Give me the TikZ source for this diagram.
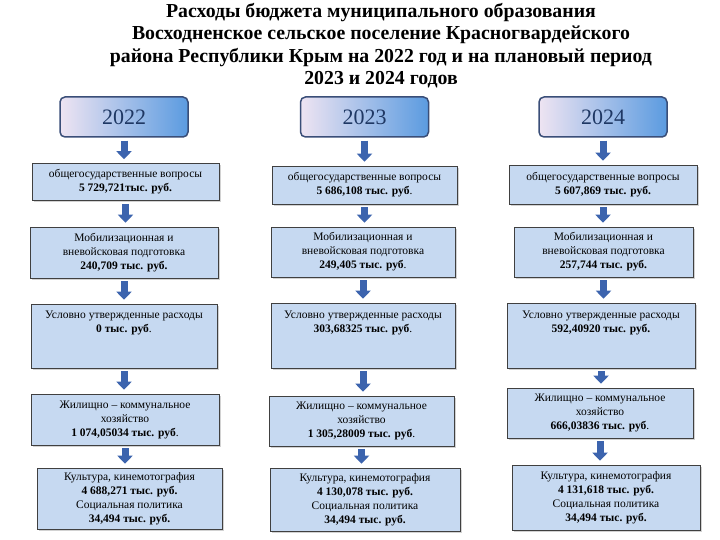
\documentclass[tikz,border=0pt]{standalone}
\usepackage{fontspec}
\setmainfont{Liberation Serif}
\usetikzlibrary{arrows.meta,shadows}

\definecolor{boxblue}{HTML}{C6D9F1}
\definecolor{arrowblue}{HTML}{3C64AE}
\definecolor{yearblue}{HTML}{5B9BE0}
\definecolor{yearpink}{HTML}{EEE4F2}
\definecolor{yeartext}{HTML}{1F3864}
\definecolor{yearline}{HTML}{3A4E78}

\begin{document}
\begin{tikzpicture}[x=1pt,y=-1pt,
		yearbox/.style={draw=yearline, line width=1.5pt, rounded corners=5pt, left color=yearpink, right color=yearblue, minimum width=128pt, minimum height=40pt, text=yeartext, font=\fontsize{22}{26}\selectfont},
		itembox/.style={draw=black!75, line width=0.6pt, fill=boxblue, align=center, inner sep=2pt, font=\fontsize{11.5}{14}\selectfont, drop shadow={opacity=0.35, shadow xshift=2pt, shadow yshift=-2pt}},
		downarrow/.style={draw=arrowblue, line width=7pt, -{Triangle[width=15pt,length=8pt]}, shorten <=3pt, shorten >=4pt}]
		\fill[white] (0,0) rectangle (720,540);
		\useasboundingbox (0,0) rectangle (720,540);
		\draw (381,45.5) node[align=center, font=\fontsize{19.8}{22.3}\selectfont\bfseries](title){Расходы бюджета муниципального образования\\Восходненское сельское поселение Красногвардейского\\района Республики Крым на 2022 год и на плановый период\\2023 и 2024 годов};
		\draw (124,117) node[yearbox](y22){2022};
		\draw (364.5,117) node[yearbox](y23){2023};
		\draw (603,117) node[yearbox](y24){2024};
		\draw (125.5,182) node[itembox, minimum width=187pt, minimum height=37pt](g22){общегосударственные вопросы\\\textbf{5 729,721тыс. руб.}};
		\draw (364.5,185) node[itembox, minimum width=185pt, minimum height=38pt](g23){общегосударственные вопросы\\\textbf{5 686,108 тыс. руб}.};
		\draw (603,184.5) node[itembox, minimum width=188pt, minimum height=39pt](g24){общегосударственные вопросы\\\textbf{5 607,869 тыс. руб.}};
		\draw (124,252.5) node[itembox, minimum width=188pt, minimum height=51pt](m22){Мобилизационная и\\вневойсковая подготовка\\\textbf{240,709 тыс. руб.}};
		\draw (363,252) node[itembox, minimum width=184pt, minimum height=50pt](m23){Мобилизационная и\\вневойсковая подготовка\\\textbf{249,405 тыс. руб}.};
		\draw (603.5,252) node[itembox, minimum width=179pt, minimum height=50pt](m24){Мобилизационная и\\вневойсковая подготовка\\\textbf{257,744 тыс. руб.}};
		\draw (124,336) node[itembox, minimum width=186pt, minimum height=64pt](u22){Условно утвержденные расходы\\\textbf{0 тыс. руб}.\\[14pt]\mbox{}};
		\draw (363,335.5) node[itembox, minimum width=184pt, minimum height=65pt](u23){Условно утвержденные расходы\\\textbf{303,68325 тыс. руб}.\\[14pt]\mbox{}};
		\draw (601,335.5) node[itembox, minimum width=188pt, minimum height=65pt](u24){Условно утвержденные расходы\\\textbf{592,40920 тыс. руб.}\\[14pt]\mbox{}};
		\draw (125,419.5) node[itembox, minimum width=188pt, minimum height=51pt](h22){Жилищно -- коммунальное\\хозяйство\\\textbf{1 074,05034 тыс. руб}.};
		\draw (361.5,421) node[itembox, minimum width=185pt, minimum height=50pt](h23){Жилищно -- коммунальное\\хозяйство\\\textbf{1 305,28009 тыс. руб}.};
		\draw (600,413) node[itembox, minimum width=186pt, minimum height=50pt](h24){Жилищно -- коммунальное\\хозяйство\\\textbf{666,03836 тыс. руб}.};
		\draw (129.5,498.5) node[itembox, minimum width=185pt, minimum height=61pt](k22){Культура, кинемотография\\\textbf{4 688,271 тыс. руб.}\\Социальная политика\\\textbf{34,494 тыс. руб.}};
		\draw (365,499.5) node[itembox, minimum width=190pt, minimum height=63pt](k23){Культура, кинемотография\\\textbf{4 130,078 тыс. руб.}\\Социальная политика\\\textbf{34,494 тыс. руб.}};
		\draw (606,497.5) node[itembox, minimum width=188pt, minimum height=65pt](k24){Культура, кинемотография\\\textbf{4 131,618 тыс. руб.}\\Социальная политика\\\textbf{34,494 тыс. руб.}};
		\draw[downarrow] (y22.south) -- (y22.south |- g22.north);
		\draw[downarrow] (g22.south) -- (g22.south |- m22.north);
		\draw[downarrow] (m22.south) -- (m22.south |- u22.north);
		\draw[downarrow] (u22.south) -- (u22.south |- h22.north);
		\draw[downarrow] (h22.south) -- (h22.south |- k22.north);
		\draw[downarrow] (y23.south) -- (y23.south |- g23.north);
		\draw[downarrow] (g23.south) -- (g23.south |- m23.north);
		\draw[downarrow] (m23.south) -- (m23.south |- u23.north);
		\draw[downarrow] (u23.south) -- (u23.south |- h23.north);
		\draw[downarrow] (h23.south) -- (h23.south |- k23.north);
		\draw[downarrow] (y24.south) -- (y24.south |- g24.north);
		\draw[downarrow] (g24.south) -- (g24.south |- m24.north);
		\draw[downarrow] (m24.south) -- (m24.south |- u24.north);
		\draw[downarrow] (u24.south) -- (u24.south |- h24.north);
		\draw[downarrow] (h24.south) -- (h24.south |- k24.north);
	\end{tikzpicture}
\end{document}
